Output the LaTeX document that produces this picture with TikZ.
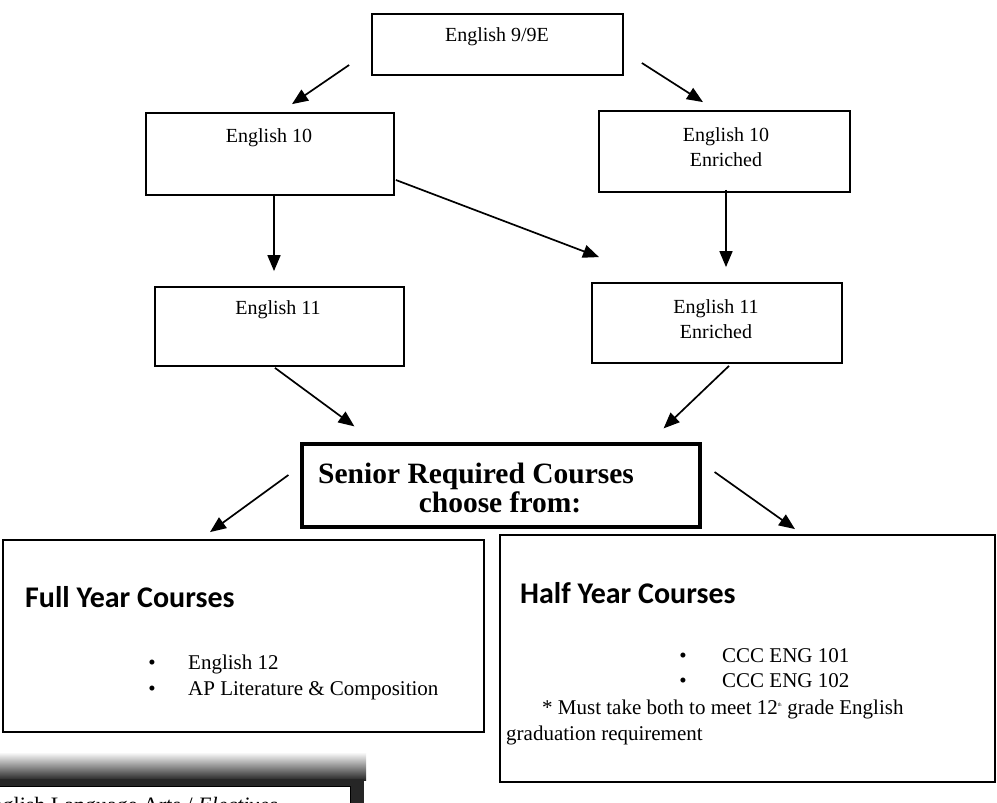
\documentclass[tikz,border=0pt]{standalone}
\usepackage{fontspec}
\setmainfont{Liberation Serif}
\newfontfamily\calib{Carlito}
\usetikzlibrary{arrows.meta,calc}
\begin{document}
\begin{tikzpicture}[x=1pt,y=-1pt,
  pbox/.style n args={2}{draw, line width=1.8pt, minimum width=#1pt, minimum height=#2pt, inner sep=0pt},
  arr/.style={-{Triangle[length=16pt,width=13pt]}, line width=1.7pt},
  lbl/.style={font=\fontsize{20}{25}\selectfont, align=center, inner sep=0pt},
  sen/.style={font=\fontsize{29.5}{32}\selectfont\bfseries, inner sep=0pt},
  head/.style={font=\fontsize{30}{34}\selectfont\calib\bfseries, inner sep=0pt},
  item/.style={font=\fontsize{21}{25}\selectfont, inner sep=0pt}]
\useasboundingbox (0,0) rectangle (997,803);
\fill[white] (0,0) rectangle (997,803);

% boxes
\node[pbox={251}{61}] (b9) at (497.5,44.5) {};
\node[pbox={248}{82}] (b10) at (270,154) {};
\node[pbox={251}{81}] (b10e) at (724.5,151.5) {};
\node[pbox={249}{79}] (b11) at (279.5,326.5) {};
\node[pbox={250}{80}] (b11e) at (717,323) {};
\node[pbox={398}{83}, line width=3.2pt] (bsen) at (501,485.5) {};
\node[pbox={481}{192}] (bfull) at (243.5,636) {};
\node[pbox={495}{247}] (bhalf) at (747.5,658.5) {};

% labels
\node[lbl] (t9) at (497,37) {English 9/9E};
\node[lbl] (t10) at (269,138) {English 10};
\node[lbl] (t10e) at (726,147) {English 10\\Enriched};
\node[lbl] (t11) at (278,310) {English 11};
\node[lbl] (t11e) at (716,319) {English 11\\Enriched};
\node[sen, anchor=base west] (s1) at (318,483) {Senior Required Courses};
\node[sen, anchor=base] (s2) at (500,512) {choose from:};

\node[head, anchor=base west] (hf) at (25,607) {Full Year Courses};
\node[item, anchor=base] (f1b) at (152,669) {•};
\node[item, anchor=base west] (f1) at (188,669) {English 12};
\node[item, anchor=base] (f2b) at (152,695) {•};
\node[item, anchor=base west] (f2) at (188,695) {AP Literature \& Composition};

\node[head, anchor=base west] (hh) at (520,603) {Half Year Courses};
\node[item, anchor=base] (h1b) at (683,662) {•};
\node[item, anchor=base west] (h1) at (722,662) {CCC ENG 101};
\node[item, anchor=base] (h2b) at (683,687) {•};
\node[item, anchor=base west] (h2) at (722,687) {CCC ENG 102};
\node[item, anchor=base west] (n1) at (542,714) {* Must take both to meet 12\textsuperscript{\tiny th} grade English};
\node[item, anchor=base west] (n2) at (506,740) {graduation requirement};

% arrows
\draw[arr] ([shift={(-22,20.5)}]b9.west) -- ([shift={(22,-8)}]b10.north);
\draw[arr] ([shift={(18,18.5)}]b9.east) -- ([shift={(-21.5,-8)}]b10e.north);
\draw[arr] ([shift={(4,-2)}]b10.south) -- ([shift={(-5.5,-15)}]b11.north);
\draw[arr] ([shift={(1,26)}]b10.east) -- ([shift={(-118,-25)}]b11e.north);
\draw[arr] ([shift={(1.5,-3)}]b10e.south) -- ([shift={(9,-15)}]b11e.north);
\draw[arr] ([shift={(-4.5,1)}]b11.south) -- ([shift={(54,-16)}]bsen.north west);
\draw[arr] ([shift={(12,2)}]b11e.south) -- ([shift={(-38,-14)}]bsen.north east);
\draw[arr] ([shift={(-12,-10.5)}]bsen.west) -- ([shift={(-33.5,-7)}]bfull.north);
\draw[arr] ([shift={(13,-13.5)}]bsen.east) -- ([shift={(47.5,-5)}]bhalf.north);

% cut-off box at bottom left
\begin{scope}
\clip (0,0) rectangle (997,803);
\shade[top color=white, bottom color=black!85] (0,752) rectangle (366,780);
\fill[black!85] (0,779) rectangle (364,803);
\node[draw, fill=white, line width=1pt, minimum width=360pt, minimum height=28pt, inner sep=0pt] (bel) at (170,800) {};
\node[item, font=\fontsize{22}{26}\selectfont, anchor=base west] (tel) at (-22,812) {English Language Arts / \textit{Electives}};
\end{scope}
\end{tikzpicture}
\end{document}
